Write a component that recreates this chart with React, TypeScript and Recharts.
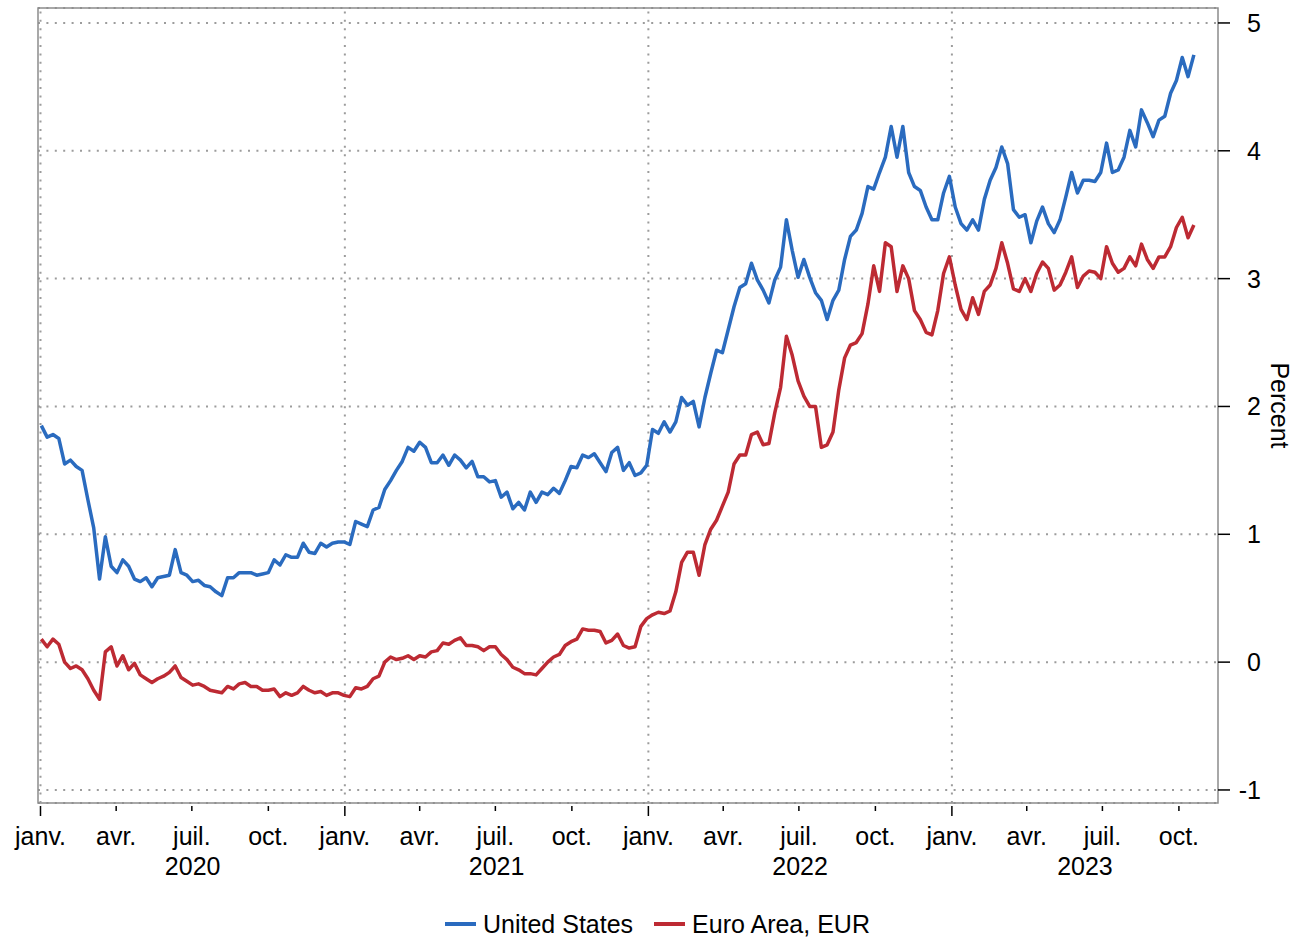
import { CartesianGrid, Label, Legend, Line, LineChart, ReferenceArea, ReferenceLine, XAxis, YAxis } from "recharts"

const FONT = "'Liberation Sans', Arial, sans-serif"
const FS = 25
const BLUE = "#2a6bbf"
const RED = "#bd2a33"
const GRID = "#9c9c9c"

// weekly observations, first one on 2 Jan 2020
const FIRST_OBS = Date.UTC(2020, 0, 2)
const WEEK = 7 * 24 * 3600 * 1000

const unitedStates = [
    1.85, 1.76, 1.78, 1.75, 1.55, 1.58, 1.53, 1.50, 1.27, 1.05,
    0.65, 0.98, 0.75, 0.70, 0.80, 0.75, 0.65, 0.63, 0.66, 0.59,
    0.66, 0.67, 0.68, 0.88, 0.70, 0.68, 0.63, 0.64, 0.60, 0.59,
    0.55, 0.52, 0.66, 0.66, 0.70, 0.70, 0.70, 0.68, 0.69, 0.70,
    0.80, 0.76, 0.84, 0.82, 0.82, 0.93, 0.86, 0.85, 0.93, 0.90,
    0.93, 0.94, 0.94, 0.92, 1.10, 1.08, 1.06, 1.19, 1.21, 1.35,
    1.42, 1.50, 1.57, 1.68, 1.65, 1.72, 1.68, 1.56, 1.56, 1.62,
    1.54, 1.62, 1.58, 1.52, 1.57, 1.45, 1.45, 1.41, 1.42, 1.29,
    1.33, 1.20, 1.25, 1.19, 1.33, 1.25, 1.33, 1.31, 1.36, 1.32,
    1.42, 1.53, 1.52, 1.62, 1.60, 1.63, 1.56, 1.49, 1.64, 1.68,
    1.50, 1.56, 1.46, 1.48, 1.54, 1.82, 1.79, 1.88, 1.80, 1.88,
    2.07, 2.01, 2.04, 1.84, 2.07, 2.26, 2.44, 2.42, 2.60, 2.78,
    2.93, 2.96, 3.12, 2.99, 2.91, 2.81, 2.99, 3.09, 3.46, 3.22,
    3.01, 3.15, 3.01, 2.89, 2.83, 2.68, 2.83, 2.91, 3.15, 3.33,
    3.38, 3.51, 3.72, 3.70, 3.83, 3.95, 4.19, 3.95, 4.19, 3.83,
    3.72, 3.69, 3.56, 3.46, 3.46, 3.67, 3.80, 3.56, 3.43, 3.38,
    3.46, 3.38, 3.62, 3.77, 3.87, 4.03, 3.90, 3.54, 3.48, 3.50,
    3.28, 3.45, 3.56, 3.43, 3.36, 3.46, 3.64, 3.83, 3.67, 3.77,
    3.77, 3.76, 3.83, 4.06, 3.83, 3.85, 3.95, 4.16, 4.03, 4.32,
    4.22, 4.11, 4.24, 4.27, 4.45, 4.55, 4.73, 4.58, 4.75,
]

const euroArea = [
    0.18, 0.12, 0.18, 0.14, 0.00, -0.05, -0.03, -0.06, -0.13, -0.22,
    -0.29, 0.08, 0.12, -0.03, 0.05, -0.06, -0.01, -0.10, -0.13, -0.16,
    -0.13, -0.11, -0.08, -0.03, -0.12, -0.15, -0.18, -0.17, -0.19, -0.22,
    -0.23, -0.24, -0.19, -0.21, -0.17, -0.16, -0.19, -0.19, -0.22, -0.22,
    -0.21, -0.27, -0.24, -0.26, -0.24, -0.19, -0.22, -0.24, -0.23, -0.26,
    -0.24, -0.24, -0.26, -0.27, -0.20, -0.21, -0.19, -0.13, -0.11, 0.00,
    0.04, 0.02, 0.03, 0.05, 0.02, 0.05, 0.04, 0.08, 0.09, 0.15,
    0.14, 0.17, 0.19, 0.13, 0.13, 0.12, 0.09, 0.12, 0.12, 0.06,
    0.02, -0.04, -0.06, -0.09, -0.09, -0.10, -0.05, 0.00, 0.04, 0.06,
    0.13, 0.16, 0.18, 0.26, 0.25, 0.25, 0.24, 0.15, 0.17, 0.22,
    0.13, 0.11, 0.12, 0.28, 0.34, 0.37, 0.39, 0.38, 0.40, 0.55,
    0.78, 0.86, 0.86, 0.68, 0.92, 1.04, 1.11, 1.22, 1.33, 1.55,
    1.62, 1.62, 1.78, 1.80, 1.70, 1.71, 1.95, 2.15, 2.55, 2.40,
    2.20, 2.08, 2.00, 2.00, 1.68, 1.70, 1.80, 2.13, 2.38, 2.48,
    2.50, 2.57, 2.80, 3.10, 2.90, 3.28, 3.25, 2.90, 3.10, 3.00,
    2.75, 2.68, 2.58, 2.56, 2.75, 3.04, 3.17, 2.95, 2.76, 2.68,
    2.85, 2.72, 2.90, 2.95, 3.08, 3.28, 3.12, 2.92, 2.90, 3.00,
    2.90, 3.04, 3.13, 3.08, 2.91, 2.95, 3.05, 3.17, 2.93, 3.02,
    3.06, 3.05, 3.00, 3.25, 3.12, 3.05, 3.08, 3.17, 3.10, 3.27,
    3.15, 3.08, 3.17, 3.17, 3.25, 3.40, 3.48, 3.32, 3.42,
]

const seriesNames = ["United States", "Euro Area, EUR"]
const seriesColors = [BLUE, RED]

const years = [2020, 2021, 2022, 2023]
const quarterMonths = [0, 3, 6, 9]
const monthLabels = ["janv.", "avr.", "juil.", "oct."]
const yTicks = [-1, 0, 1, 2, 3, 4, 5]

const X_DOMAIN = [Date.UTC(2019, 11, 29), Date.UTC(2023, 10, 17)]
const Y_DOMAIN = [-1.102, 5.117]

const data = unitedStates.map((us, i) => ({
    t: FIRST_OBS + i * WEEK,
    us,
    ea: euroArea[i],
}))

const janTicks = years.map((y) => Date.UTC(y, 0, 1))
const quarterTicks = years.flatMap((y) => quarterMonths.map((m) => Date.UTC(y, m, 1)))
// year label sits in the middle of the visible part of each year
const yearMids = years.map((y) => {
    const a = Math.max(Date.UTC(y, 0, 1), X_DOMAIN[0])
    const b = Math.min(Date.UTC(y + 1, 0, 1), X_DOMAIN[1])
    return (a + b) / 2
})

const XTick = (props: any) => {
    const { x, y, payload } = props
    const v = payload.value
    const yi = yearMids.indexOf(v)
    if (yi >= 0) {
        return (
            <text x={x} y={y + 72} textAnchor="middle" fontSize={FS} fontFamily={FONT} fill="#000">
                {years[yi]}
            </text>
        )
    }
    const m = new Date(v).getUTCMonth()
    return (
        <g>
            <line x1={x} x2={x} y1={y + 3} y2={y + (m === 0 ? 13 : 8)} stroke="#000" strokeWidth={1.5} />
            <text x={x} y={y + 42} textAnchor="middle" fontSize={FS} fontFamily={FONT} fill="#000">
                {monthLabels[m / 3]}
            </text>
        </g>
    )
}

const YTick = (props: any) => {
    const { x, y, payload } = props
    return (
        <text x={x + 31} y={y} dy="0.36em" textAnchor="end" fontSize={FS} fontFamily={FONT} fill="#000">
            {payload.value}
        </text>
    )
}

// own order, recharts would sort the items by name
const renderLegend = () => (
    <div style={{ display: "flex", alignItems: "center", height: 36, paddingLeft: 445, fontFamily: FONT, fontSize: FS, color: "#000" }}>
        {seriesNames.map((name, i) => (
            <span key={name} style={{ display: "flex", alignItems: "center", marginRight: 21 }}>
                <span style={{ display: "inline-block", width: 31, height: 4, background: seriesColors[i], marginRight: 7 }} />
                {name}
            </span>
        ))}
    </div>
)

export default function App() {
    return (
        <div style={{ position: "absolute", left: 0, top: 0, fontFamily: FONT }}>
            <LineChart width={1301} height={942} data={data} margin={{ top: 8, right: 0, left: 38, bottom: 0 }}>
                <CartesianGrid vertical={false} stroke={GRID} strokeWidth={2} strokeDasharray="2 6.4" />
                {janTicks.map((t) => (
                    <ReferenceLine key={t} x={t} stroke={GRID} strokeWidth={2} strokeDasharray="2 6.4" />
                ))}
                <XAxis
                    type="number"
                    dataKey="t"
                    domain={X_DOMAIN}
                    allowDataOverflow
                    ticks={[...quarterTicks, ...yearMids]}
                    interval={0}
                    height={103}
                    axisLine={false}
                    tickLine={false}
                    tickSize={0}
                    tickMargin={0}
                    tick={(p: any) => <XTick {...p} />}
                />
                <YAxis
                    orientation="right"
                    type="number"
                    domain={Y_DOMAIN}
                    allowDataOverflow
                    ticks={yTicks}
                    interval={0}
                    width={83}
                    axisLine={false}
                    tickLine={{ stroke: "#000", strokeWidth: 1.5 }}
                    tickSize={12}
                    tickMargin={0}
                    tick={(p: any) => <YTick {...p} />}
                >
                    <Label
                        content={(p: any) => {
                            const vb = p.viewBox
                            const cx = vb.x + 62
                            const cy = vb.y + vb.height / 2
                            return (
                                <text
                                    x={cx}
                                    y={cy}
                                    textAnchor="middle"
                                    dominantBaseline="central"
                                    transform={`rotate(90, ${cx}, ${cy})`}
                                    fontSize={FS}
                                    fontFamily={FONT}
                                    fill="#000"
                                >
                                    Percent
                                </text>
                            )
                        }}
                    />
                </YAxis>
                <ReferenceArea
                    x1={X_DOMAIN[0]}
                    x2={X_DOMAIN[1]}
                    y1={Y_DOMAIN[0]}
                    y2={Y_DOMAIN[1]}
                    fill="none"
                    stroke="#8c8c8c"
                    strokeWidth={1.5}
                    ifOverflow="visible"
                />
                <Line
                    type="linear"
                    dataKey="us"
                    name={seriesNames[0]}
                    stroke={BLUE}
                    strokeWidth={3.5}
                    strokeLinejoin="round"
                    dot={false}
                    isAnimationActive={false}
                />
                <Line
                    type="linear"
                    dataKey="ea"
                    name={seriesNames[1]}
                    stroke={RED}
                    strokeWidth={3.5}
                    strokeLinejoin="round"
                    dot={false}
                    isAnimationActive={false}
                />
                <Legend verticalAlign="bottom" content={renderLegend} wrapperStyle={{ left: 0, width: 1301 }} />
            </LineChart>
        </div>
    )
}
